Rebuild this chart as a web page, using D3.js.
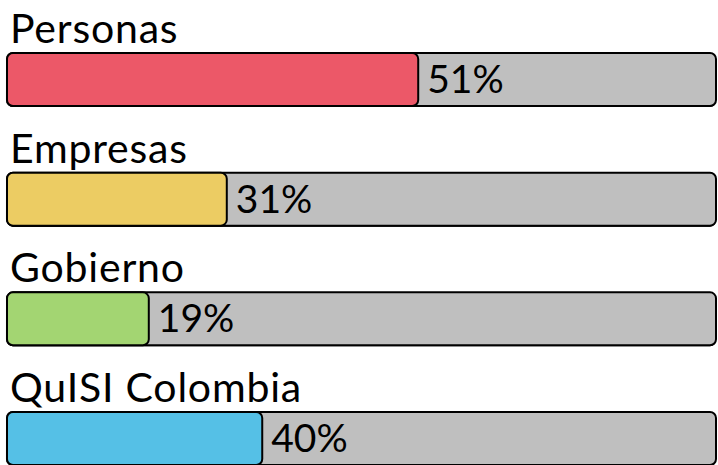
<!DOCTYPE html>
<html>
<head>
<meta charset="utf-8">
<script src="https://cdn.jsdelivr.net/npm/d3@7"></script>
<style>
  html, body { margin: 0; padding: 0; background: #fff; }
  svg { display: block; }
</style>
</head>
<body>
<div id="chart"></div>
<script>
// categories, bar lengths and the printed labels
var categories = ['Personas', 'Empresas', 'Gobierno', 'QuISI Colombia'];
var barValues = [58, 31, 20, 36];
var pctLabels = ['51%', '31%', '19%', '40%'];
var colors = ['#EC5868', '#ECCC63', '#A3D572', '#55C0E6'];

var width = 718,
  height = 465,
  barH = 53;

var svg = d3.select('#chart')
  .append('svg')
  .attr('width', width)
  .attr('height', height);

var x = d3.scaleLinear()
  .domain([0, 100])
  .range([7, 716]);

var y = d3.scalePoint()
  .domain(categories)
  .range([53, 412]);

var rows = svg.selectAll('g.row')
  .data(categories)
  .enter()
  .append('g')
  .attr('class', 'row')
  .attr('transform', function (d) { return 'translate(0,' + y(d) + ')'; });

// category title above each bar
rows.append('text')
  .attr('x', 10)
  .attr('y', -10)
  .attr('font-family', 'Lato')
  .attr('font-size', '41px')
  .attr('letter-spacing', '0.8px')
  .attr('fill', '#000')
  .text(function (d) { return d; });

// grey track (slightly heavier bottom edge, like the original)
rows.append('rect')
  .attr('x', x(0))
  .attr('y', 1)
  .attr('width', x(100) - x(0))
  .attr('height', barH)
  .attr('rx', 6)
  .attr('fill', '#000');

rows.append('rect')
  .attr('x', x(0))
  .attr('y', 0)
  .attr('width', x(100) - x(0))
  .attr('height', barH)
  .attr('rx', 6)
  .attr('fill', '#BFBFBF')
  .attr('stroke', '#000')
  .attr('stroke-width', 2);

// coloured part
rows.append('rect')
  .attr('x', x(0))
  .attr('y', 0)
  .attr('width', function (d, i) { return x(barValues[i]) - x(0); })
  .attr('height', barH)
  .attr('rx', 6)
  .attr('fill', function (d, i) { return colors[i]; })
  .attr('stroke', '#000')
  .attr('stroke-width', 2);

// percent label right of the coloured part
rows.append('text')
  .attr('x', function (d, i) { return x(barValues[i]) + 9; })
  .attr('y', 40)
  .attr('font-family', 'Lato')
  .attr('font-size', '39px')
  .attr('fill', '#000')
  .text(function (d, i) { return pctLabels[i]; });
</script>
</body>
</html>
